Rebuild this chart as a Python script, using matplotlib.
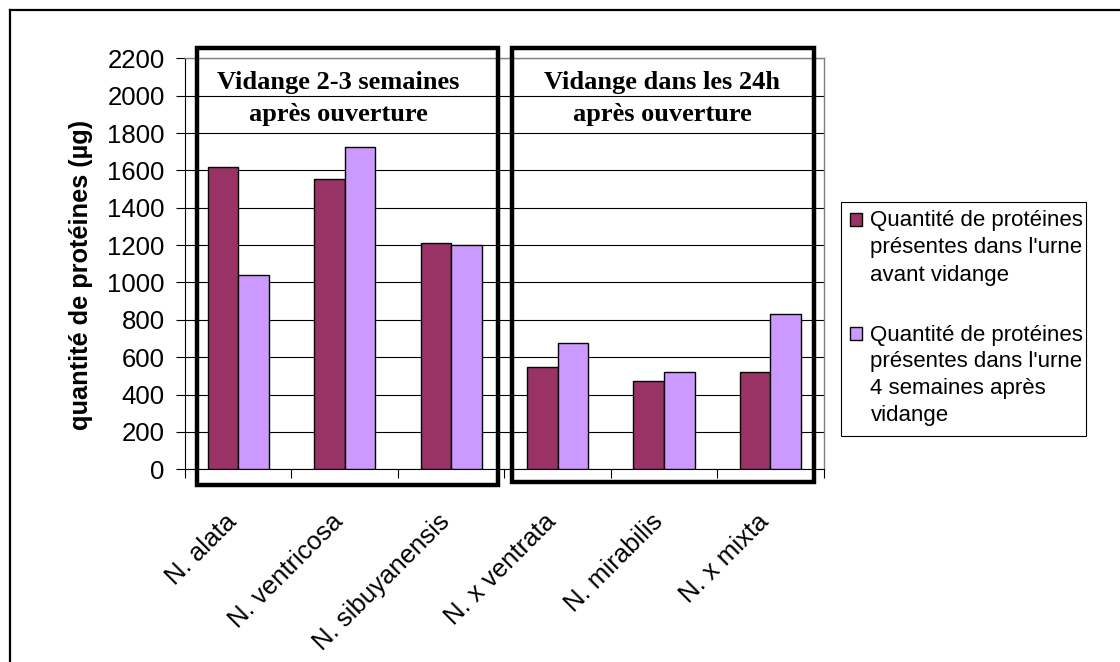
import numpy as np
import matplotlib
matplotlib.use("Agg")
import matplotlib.pyplot as plt
from matplotlib.patches import Rectangle
from matplotlib.lines import Line2D
from matplotlib.transforms import ScaledTranslation

# protein amounts per species (µg)
species = ['N. alata', 'N. ventricosa', 'N. sibuyanensis',
           'N. x ventrata', 'N. mirabilis', 'N. x mixta']
before = [1620, 1556, 1213, 549, 474, 521]
after_4w = [1042, 1724, 1201, 678, 521, 830]

legend_before = ["Quantité de protéines", "présentes dans l'urne", "avant vidange"]
legend_after = ["Quantité de protéines", "présentes dans l'urne", "4 semaines après", "vidange"]
group_titles = [["Vidange 2-3 semaines", "après ouverture"],
                ["Vidange dans les 24h", "après ouverture"]]

dark = '#993366'
light = '#CC99FF'

plt.rcParams['font.family'] = 'Liberation Sans'

W, H = 1120, 662
fig = plt.figure(figsize=(W / 100, H / 100), dpi=100)


def fx(px):
    return px / W


def fy(py):
    return 1 - py / H


ax = fig.add_axes([fx(185), fy(469.3), fx(823.7) - fx(185), fy(58.3) - fy(469.3)])

x = np.arange(len(species))
bw = 0.287
ax.bar(x - bw / 2, before, bw, color=dark, edgecolor='black', linewidth=1, zorder=3)
ax.bar(x + bw / 2, after_4w, bw, color=light, edgecolor='black', linewidth=1, zorder=3)

ax.set_xlim(-0.5, len(species) - 0.5)
ax.set_ylim(0, 2200)
ax.set_yticks(np.arange(0, 2201, 200))
ax.yaxis.grid(True, color='black', linewidth=0.8, zorder=0)
ax.set_axisbelow(True)

ax.tick_params(axis='y', direction='out', length=6.5, width=0.8, pad=8, labelsize=18.5)
ax.set_xticks(x)
ax.set_xticklabels(species, rotation=45, ha='right', va='center',
                   rotation_mode='anchor', fontsize=18.5)
ax.tick_params(axis='x', which='major', length=0, pad=35)
shift = ScaledTranslation(-5 / 100, 0, fig.dpi_scale_trans)
for lab in ax.get_xticklabels():
    lab.set_transform(lab.get_transform() + shift)
ax.set_xticks(np.arange(-0.5, len(species)), minor=True)
ax.tick_params(axis='x', which='minor', direction='out', length=6.5, width=0.8)

for side in ['top', 'right']:
    ax.spines[side].set_color('#808080')
    ax.spines[side].set_linewidth(1)
for side in ['left', 'bottom']:
    ax.spines[side].set_color('black')
    ax.spines[side].set_linewidth(0.8)

ax.set_ylabel('quantité de protéines (µg)', fontsize=18.3, fontweight='bold', va='center')
ax.yaxis.set_label_coords(-0.163, 0.473)

# thick frames around the two groups of species
for (l, r, b), title, cx in zip([(197.3, 498.3, 485), (512.3, 814.3, 482)],
                                group_titles, [338.5, 662.5]):
    fig.add_artist(Rectangle((fx(l), fy(b)), fx(r) - fx(l), fy(48.3) - fy(b),
                             transform=fig.transFigure, fill=False,
                             edgecolor='black', linewidth=3.2, zorder=5))
    for line, base in zip(title, [89.3, 120.5]):
        fig.text(fx(cx), fy(base), line, ha='center', va='baseline',
                 family='Liberation Serif', fontweight='bold', fontsize=19, zorder=6)

# legend with markers aligned on the first line of each entry
fig.add_artist(Rectangle((fx(841), fy(436)), fx(1086) - fx(841), fy(202) - fy(436),
                         transform=fig.transFigure, facecolor='white',
                         edgecolor='black', linewidth=0.8, zorder=5))
for lines, color, base0 in [(legend_before, dark, 226.5), (legend_after, light, 340.5)]:
    fig.add_artist(Rectangle((fx(849.5), fy(base0 - 1)), fx(12.5), fy(0) - fy(12.5),
                             transform=fig.transFigure, facecolor=color,
                             edgecolor='black', linewidth=1, zorder=6))
    for i, line in enumerate(lines):
        fig.text(fx(870.5), fy(base0 + i * 27), line, ha='left', va='baseline',
                 fontsize=16, zorder=6)

# page border (top and left edges)
fig.add_artist(Line2D([fx(10), 1], [fy(10), fy(10)], transform=fig.transFigure,
                      color='black', linewidth=1.6))
fig.add_artist(Line2D([fx(10), fx(10)], [fy(10), 0], transform=fig.transFigure,
                      color='black', linewidth=1.6))

fig.savefig('out.png', dpi=100)
